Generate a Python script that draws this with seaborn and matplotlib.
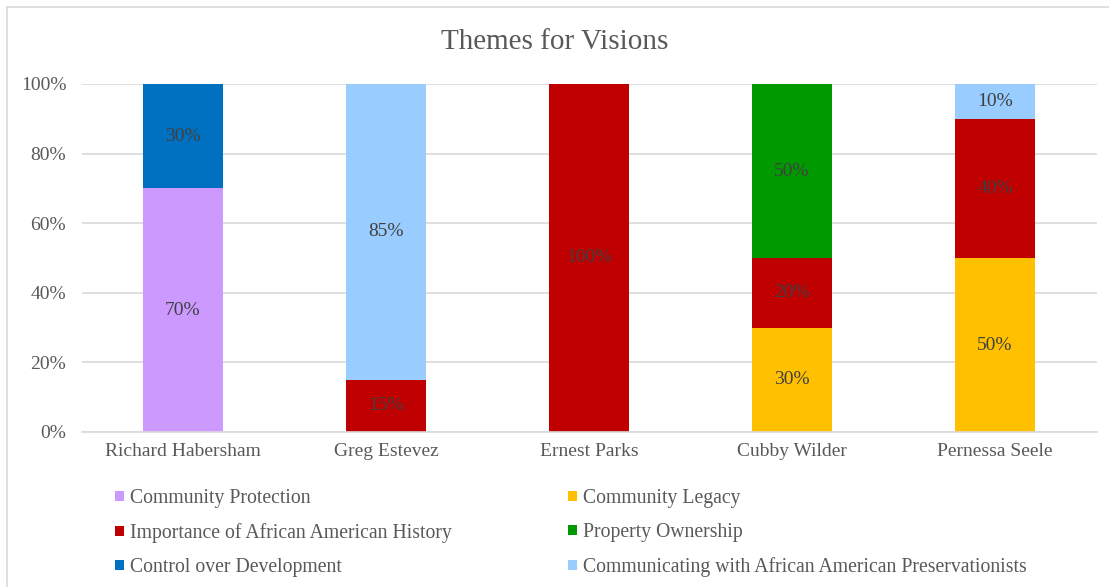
import matplotlib
matplotlib.use("Agg")
import matplotlib.pyplot as plt
import seaborn as sns
import numpy as np
import pandas as pd
from matplotlib.lines import Line2D
from matplotlib.patches import Patch

people = ["Richard Habersham", "Greg Estevez", "Ernest Parks", "Cubby Wilder", "Pernessa Seele"]
series_names = [
    "Community Protection",
    "Community Legacy",
    "Importance of African American History",
    "Property Ownership",
    "Control over Development",
    "Communicating with African American Preservationists",
]
community_protection = [70, 0, 0, 0, 0]
community_legacy = [0, 0, 0, 30, 50]
african_american_history = [0, 15, 100, 20, 40]
property_ownership = [0, 0, 0, 50, 0]
control_over_development = [30, 0, 0, 0, 0]
communicating_preservationists = [0, 85, 0, 0, 10]
series_values = [community_protection, community_legacy, african_american_history,
                 property_ownership, control_over_development, communicating_preservationists]
colors = ["#CC99FF", "#FFC000", "#C00000", "#009900", "#0070C0", "#99CCFF"]
y_ticks = [0, 20, 40, 60, 80, 100]
y_tick_labels = ["0%", "20%", "40%", "60%", "80%", "100%"]

sns.set_style("white")
plt.rcParams["font.family"] = ["Liberation Serif", "DejaVu Serif"]

W, H = 1109, 587
fig = plt.figure(figsize=(W / 100, H / 100), dpi=100)
ax = fig.add_axes([81.5 / W, 1 - 432 / H, 1015 / W, 348 / H])

txt = "#595959"
fs = 14
bottom = np.zeros(len(people))
for name, vals, col in zip(series_names, series_values, colors):
    df = pd.DataFrame({"person": people, "value": vals})
    sns.barplot(data=df, x="person", y="value", color=col, width=80 / 203,
                bottom=bottom, ax=ax, saturation=1, linewidth=0, errorbar=None)
    for i, v in enumerate(vals):
        if v > 0:
            ax.text(i, bottom[i] + v / 2, f"{v}%", ha="center", va="center",
                    fontsize=fs, color="#404040")
    bottom = bottom + np.array(vals)

ax.set_ylim(0, 100)
ax.set_xlim(-0.5, len(people) - 0.5)
ax.set_yticks(y_ticks)
ax.set_yticklabels(y_tick_labels)
ax.set_xlabel("")
ax.set_ylabel("")
ax.set_axisbelow(True)
ax.yaxis.grid(True, color="#D9D9D9", linewidth=1.2)
for s in ["top", "right", "left"]:
    ax.spines[s].set_visible(False)
ax.spines["bottom"].set_color("#D9D9D9")
ax.spines["bottom"].set_linewidth(1.2)
ax.tick_params(axis="both", length=0, labelsize=fs, labelcolor=txt)
ax.tick_params(axis="y", pad=11)
ax.tick_params(axis="x", pad=8)

fig.text(0.5, 1 - 42 / H, "Themes for Visions", ha="center", va="center",
         fontsize=21, color=txt)

# legend: two columns placed separately
col1 = [0, 2, 4]
col2 = [1, 3, 5]
for idxs, xpx in [(col1, 115), (col2, 568)]:
    handles = [Patch(facecolor=colors[i], edgecolor="none") for i in idxs]
    labels = [series_names[i] for i in idxs]
    fig.legend(handles, labels, loc="upper left",
               bbox_to_anchor=(xpx / W, 1 - 489 / H), frameon=False,
               fontsize=14.2, labelcolor=txt, handlelength=0.45, handleheight=0.45,
               handletextpad=0.3, labelspacing=0.76, borderpad=0, borderaxespad=0)

# outer chart border (top and left visible)
fig.add_artist(Line2D([7 / W, 1.0], [1 - 6.5 / H, 1 - 6.5 / H], color="#D9D9D9",
                      linewidth=1.2, transform=fig.transFigure))
fig.add_artist(Line2D([7 / W, 7 / W], [0, 1 - 6.5 / H], color="#D9D9D9",
                      linewidth=1.2, transform=fig.transFigure))

fig.savefig("out.png", dpi=100)
